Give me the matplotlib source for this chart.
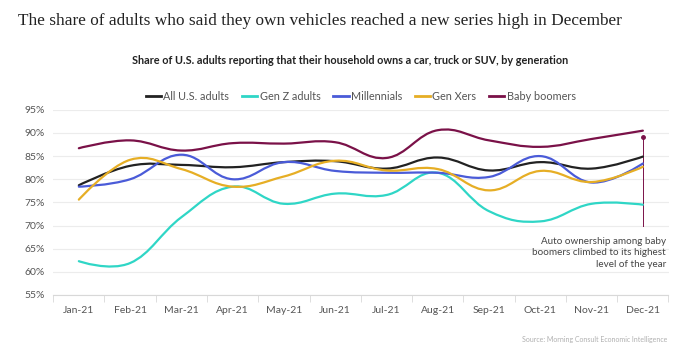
import matplotlib
matplotlib.use("Agg")
import matplotlib.pyplot as plt
from matplotlib.path import Path
from matplotlib.patches import PathPatch
from matplotlib.lines import Line2D
from matplotlib.ticker import FixedLocator, PercentFormatter

plt.rcParams['font.family'] = ['Lato', 'DejaVu Sans']

months = ["Jan-21", "Feb-21", "Mar-21", "Apr-21", "May-21", "Jun-21",
          "Jul-21", "Aug-21", "Sep-21", "Oct-21", "Nov-21", "Dec-21"]
all_adults = [78.7, 82.9, 83.1, 82.6, 83.7, 83.9, 82.3, 84.7, 81.9, 83.7, 82.3, 84.9]
gen_z = [62.3, 61.9, 71.8, 78.4, 74.7, 76.9, 76.6, 81.4, 73.1, 70.9, 74.7, 74.5]
millennials = [78.4, 80.0, 85.3, 80.0, 83.7, 81.8, 81.4, 81.4, 80.5, 85.0, 79.3, 83.4]
gen_x = [75.6, 84.2, 82.2, 78.4, 80.6, 84.0, 81.9, 82.2, 77.6, 81.8, 79.4, 82.7]
boomers = [86.7, 88.4, 86.2, 87.8, 87.7, 88.0, 84.6, 90.6, 88.4, 87.0, 88.7, 90.5]

series = [
    ("All U.S. adults", all_adults, "#222222"),
    ("Gen Z adults", gen_z, "#2fd6c6"),
    ("Millennials", millennials, "#4a5bd8"),
    ("Gen Xers", gen_x, "#e6ae25"),
    ("Baby boomers", boomers, "#7a1148"),
]


def spline_path(xs, ys, smooth=1.5):
    # bezier control points in the style of a charting "spline" series
    verts = [(xs[0], ys[0])]
    codes = [Path.MOVETO]
    n = len(xs)
    denom = smooth + 1
    for i in range(1, n):
        x0, y0 = xs[i - 1], ys[i - 1]
        x1, y1 = xs[i], ys[i]
        if i >= 2:
            xp, yp = xs[i - 2], ys[i - 2]
            lx0, ly0 = (smooth * x0 + xp) / denom, (smooth * y0 + yp) / denom
            rx0, ry0 = (smooth * x0 + x1) / denom, (smooth * y0 + y1) / denom
            slope = (ry0 - ly0) / (rx0 - lx0)
            c1 = (rx0, y0 + slope * (rx0 - x0))
        else:
            c1 = (x0, y0)
        if i + 1 < n:
            xn, yn = xs[i + 1], ys[i + 1]
            lx1, ly1 = (smooth * x1 + x0) / denom, (smooth * y1 + y0) / denom
            rx1, ry1 = (smooth * x1 + xn) / denom, (smooth * y1 + yn) / denom
            slope = (ry1 - ly1) / (rx1 - lx1)
            c2 = (lx1, y1 + slope * (lx1 - x1))
        else:
            c2 = (x1, y1)
        verts += [c1, c2, (x1, y1)]
        codes += [Path.CURVE4] * 3
    return Path(verts, codes)


fig = plt.figure(figsize=(7, 3.52), dpi=100)
ax = fig.add_axes([0.076, 0.162, 0.879, 0.526])

x = list(range(len(months)))
handles = []
for label, vals, color in series:
    ax.add_patch(PathPatch(spline_path(x, vals), fill=False, edgecolor=color,
                           lw=1.6, capstyle="round", zorder=3))
    handles.append(Line2D([0], [0], color=color, lw=2, label=label))

ax.set_xlim(-0.5, 11.5)
ax.set_ylim(55, 95)
ax.yaxis.set_major_locator(FixedLocator(range(55, 96, 5)))
ax.yaxis.set_major_formatter(PercentFormatter(decimals=0))
ax.set_xticks(x)
ax.set_xticklabels(months)
ax.set_xticks([i + 0.5 for i in range(-1, 12)], minor=True)
ax.grid(axis="y", color="#ececec", lw=0.8, zorder=0)
for s in ["top", "right", "left"]:
    ax.spines[s].set_visible(False)
ax.spines["bottom"].set_color("#d8d8d8")
ax.tick_params(axis="y", length=0, labelsize=7.5, labelcolor="#555555", pad=6)
ax.tick_params(axis="x", which="major", length=0, labelsize=7.5, labelcolor="#555555", pad=8)
ax.tick_params(axis="x", which="minor", length=5, color="#d8d8d8")

# annotation for baby boomers in December
ax.plot([11, 11], [70, 89.2], color="#7a1148", lw=0.7, zorder=2)
ax.plot([11], [89.2], "o", color="#7a1148", ms=2.5, zorder=4)
ax.text(11.45, 67.6, "Auto ownership among baby\nboomers climbed to its highest\nlevel of the year",
        ha="right", va="top", fontsize=7.1, color="#444444", linespacing=1.4)

ax.legend(handles=handles, loc="lower center", bbox_to_anchor=(0.5, 1.0), ncol=5,
          frameon=False, fontsize=7.8, handlelength=1.4, handletextpad=0.2,
          columnspacing=1.2, labelcolor="#555555", borderaxespad=0.3)

fig.text(0.026, 0.94, "The share of adults who said they own vehicles reached a new series high in December",
         fontsize=12.4, family=["Liberation Serif", "DejaVu Serif"], color="#222222", va="center")
fig.text(0.5, 0.827, "Share of U.S. adults reporting that their household owns a car, truck or SUV, by generation",
         ha="center", va="center", fontsize=7.8, fontweight="bold", color="#222222")
fig.text(0.953, 0.035, "Source: Morning Consult Economic Intelligence", ha="right", va="center",
         fontsize=5.0, color="#b0b0b0")

fig.savefig("out.png", dpi=100, facecolor="white")
